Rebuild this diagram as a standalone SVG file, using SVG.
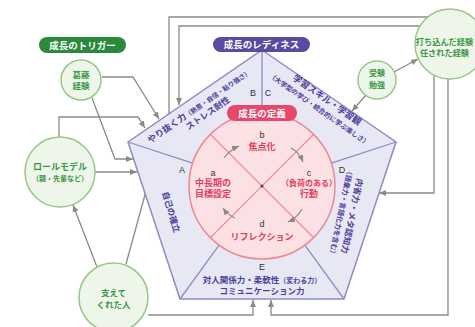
<svg xmlns="http://www.w3.org/2000/svg" width="475" height="327" viewBox="0 0 475 327">
<defs>
<marker id="ah" markerWidth="7" markerHeight="6" refX="7" refY="3" orient="auto" markerUnits="userSpaceOnUse">
<path d="M0,0 L7,3 L0,6 z" fill="#8d8a82"/>
</marker>
<style>
.jp{font-family:"Liberation Sans","Noto Sans CJK JP",sans-serif;}
.conn{fill:none;stroke:#8d8a82;stroke-width:1.3;marker-end:url(#ah);}
.inarr{fill:none;stroke:#8d8a82;stroke-width:1.2;marker-end:url(#ah);}
.gnode{fill:#eef6ea;stroke:#97c688;stroke-width:1.5;}
.gtext{fill:#3a9646;font-weight:bold;text-anchor:middle;}
.ptext{fill:#4b3f98;font-weight:bold;text-anchor:middle;}
.rtext{fill:#e2405c;font-weight:bold;text-anchor:middle;}
.ltr{fill:#333;font-size:9px;text-anchor:middle;font-family:"Liberation Sans",sans-serif;}
.pill{fill:#fff;font-weight:bold;font-size:9.5px;text-anchor:middle;}
.rad{stroke:#8e8cc4;stroke-width:1.3;fill:none;}
.xl{stroke:#ec8893;stroke-width:1.3;fill:none;}
</style>
</defs>
<rect width="475" height="327" fill="#fff"/>

<g id="connectors">
<path class="conn" d="M102,77 H133 L159,119"/>
<path class="conn" d="M92,98 L115,159 H133"/>
<path class="conn" d="M59,137 V117 H138 L145,128"/>
<path class="conn" d="M94,172 H137"/>
<path class="conn" d="M97,267 L73,205"/>
<path class="conn" d="M126,264 L160,140"/>
<path class="conn" d="M148,315 H253 V300"/>
<path class="conn" d="M448,79 V315 H271 V300"/>
<path class="conn" d="M434,75 V193 H379"/>
<path class="conn" d="M428,17 H169 V185"/>
<path class="conn" d="M421,26 H179 V105"/>
<path class="conn" d="M394,72 L418,59"/>
<path class="conn" d="M366,95 L352,111"/>
</g>

<g id="pentagon">
<polygon points="262,50 396,142 344,299 180,299 128,142" fill="#e8e8f4" stroke="#8e8cc4" stroke-width="1.5"/>
<line class="rad" x1="262" y1="50" x2="262" y2="113"/>
<line class="rad" x1="128" y1="142" x2="192.6" y2="163.2"/>
<line class="rad" x1="396" y1="142" x2="331.4" y2="163.2"/>
<line class="rad" x1="180" y1="299" x2="219.1" y2="245.1"/>
<line class="rad" x1="344" y1="299" x2="304.9" y2="245.1"/>
<text class="ltr" x="182" y="173">A</text>
<text class="ltr" x="253" y="96">B</text>
<text class="ltr" x="268" y="96">C</text>
<text class="ltr" x="342" y="173">D</text>
<text class="ltr" x="262" y="270">E</text>
<g transform="translate(199,106) rotate(-35)">
<text class="jp ptext" x="0" y="3"><tspan font-size="9">やり抜く力</tspan><tspan font-size="6.5">（熱意・自信・粘り強さ）</tspan></text>
<text class="jp ptext" x="3" y="14" font-size="8.5">ストレス耐性</text>
</g>
<g transform="translate(327,100) rotate(35)">
<text class="jp ptext" x="0" y="3" font-size="9">学習スキル・学習観</text>
<text class="jp ptext" x="-1" y="14.5" font-size="6.7">（大学型の学び・統合的に学ぶ楽しさ）</text>
</g>
<g transform="translate(352,216) rotate(102)">
<text class="jp ptext" x="0" y="3" font-size="8.5">内省力・メタ認知力</text>
<text class="jp ptext" x="-1" y="14" font-size="7">（語彙力・言語化力を含む）</text>
</g>
<g transform="translate(171,212) rotate(73)">
<text class="jp ptext" x="0" y="3" font-size="8.5">自己の確立</text>
</g>
<text class="jp ptext" x="262" y="283" font-size="8.5">対人関係力・柔軟性<tspan font-size="7">（変わる力）</tspan></text>
<text class="jp ptext" x="262" y="294" font-size="8.5">コミュニケーション力</text>
</g>

<g id="definition">
<circle cx="262" cy="186" r="73" fill="#fbe1e3" stroke="#ec8893" stroke-width="1.5"/>
<line class="xl" x1="210.4" y1="134.4" x2="313.6" y2="237.6"/>
<line class="xl" x1="313.6" y1="134.4" x2="210.4" y2="237.6"/>
<circle cx="262" cy="186" r="1.5" fill="#6b3a3a"/>
<text class="ltr" x="262" y="138">b</text>
<text class="jp rtext" x="262" y="149.5" font-size="9">焦点化</text>
<text class="ltr" x="213" y="176">a</text>
<text class="jp rtext" x="213" y="186" font-size="9">中長期の</text>
<text class="jp rtext" x="213" y="197" font-size="9">目標設定</text>
<text class="ltr" x="309" y="176">c</text>
<text class="jp rtext" x="309" y="185.5" font-size="8">（負荷のある）</text>
<text class="jp rtext" x="309" y="197" font-size="9">行動</text>
<text class="ltr" x="262" y="227">d</text>
<text class="jp rtext" x="262" y="239.5" font-size="9">リフレクション</text>
<path class="inarr" d="M224,158 Q230,150 239,146"/>
<path class="inarr" d="M291,148 Q299,152 303,162"/>
<path class="inarr" d="M302,209 Q297,218 288,222"/>
<path class="inarr" d="M235,218 Q228,215 223,208"/>
<rect x="227" y="105" width="70" height="16" rx="8" fill="#e8466b"/>
<text class="jp pill" x="262" y="116.5">成長の定義</text>
</g>

<g id="label-trigger">
<rect x="39" y="37" width="87" height="16" rx="8" fill="#2a8a3c"/>
<text class="jp pill" x="82.5" y="48.5">成長のトリガー</text>
</g>
<g id="label-readiness">
<rect x="213" y="37" width="97" height="15" rx="7.5" fill="#5b4b9e"/>
<text class="jp pill" x="261.5" y="48">成長のレディネス</text>
</g>

<g id="node-katto">
<circle class="gnode" cx="81" cy="80" r="20"/>
<text class="jp gtext" x="81" y="78" font-size="8.5">葛藤</text>
<text class="jp gtext" x="81" y="89" font-size="8.5">経験</text>
</g>
<g id="node-rolemodel">
<circle class="gnode" cx="60" cy="172" r="35"/>
<text class="jp gtext" x="60" y="170" font-size="9">ロールモデル</text>
<text class="jp gtext" x="60" y="181" font-size="7">（親・先輩など）</text>
</g>
<g id="node-sasaete">
<circle class="gnode" cx="113.5" cy="297.5" r="34.5"/>
<text class="jp gtext" x="113.5" y="296" font-size="8.5">支えて</text>
<text class="jp gtext" x="113.5" y="307.5" font-size="8.5">くれた人</text>
</g>
<g id="node-juken">
<circle class="gnode" cx="377" cy="80" r="19"/>
<text class="jp gtext" x="377" y="76" font-size="8">受験</text>
<text class="jp gtext" x="377" y="88" font-size="8">勉強</text>
</g>
<g id="node-uchikonda">
<circle class="gnode" cx="450" cy="44" r="35"/>
<text class="jp gtext" x="444.5" y="44.5" font-size="8.2">打ち込んだ経験</text>
<text class="jp gtext" x="444.5" y="55.5" font-size="8.2">任された経験</text>
</g>
</svg>
